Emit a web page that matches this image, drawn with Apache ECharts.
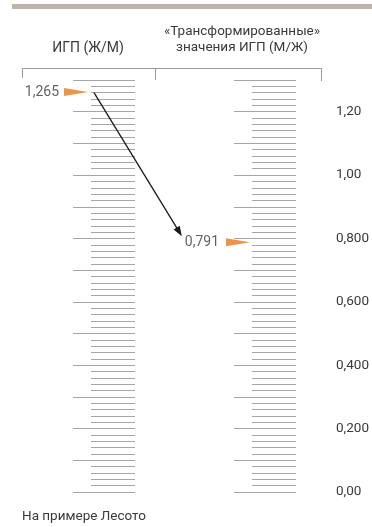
<!DOCTYPE html>
<html>
<head>
<meta charset="utf-8">
<script src="https://cdn.jsdelivr.net/npm/echarts@6/dist/echarts.min.js"></script>
<style>
html,body{margin:0;padding:0;background:#fff;}
#c{width:372px;height:527px;}
</style>
</head>
<body>
<div id="c"></div>
<script>
// ---- data ----
const scaleMin = 0;
const scaleMax = 1.3;
const majorStep = 0.1;
const scaleTitles = ['ИГП (Ж/М)', '«Трансформированные»\nзначения ИГП (М/Ж)'];
const markerValues = [1.265, 0.791];
const markerLabels = ['1,265', '0,791'];
const tickValues = [0, 0.2, 0.4, 0.6, 0.8, 1.0, 1.2];
const tickLabels = ['0,00', '0,200', '0,400', '0,600', '0,800', '1,00', '1,20'];
const footnote = 'На примере Лесото';

// ---- chart ----
const FONT = 'Roboto, "Noto Sans", sans-serif';
const TXT = '#3a3a3a';
const TICK = '#a6a6a6';
const ORANGE = '#e57a22';

const chart = echarts.init(document.getElementById('c'), null, {renderer: 'canvas'});

function labelFor(v) {
  for (let i = 0; i < tickValues.length; i++) {
    if (Math.abs(v - tickValues[i]) < 1e-6) return tickLabels[i];
  }
  return '';
}

const gridTop = 80, gridHeight = 412;

function tickAxis(gridIndex) {
  return {
    type: 'value', gridIndex: gridIndex, position: 'right',
    min: scaleMin, max: scaleMax, interval: majorStep,
    axisLine: {show: false, onZero: false},
    axisTick: {show: true, inside: true, length: 62, lineStyle: {color: TICK, width: 1}},
    minorTick: {show: true, splitNumber: 5, length: 44, lineStyle: {color: TICK, width: 1}},
    axisLabel: {show: false},
    splitLine: {show: false}
  };
}

const hiddenX = (gi) => ({type: 'value', gridIndex: gi, min: 0, max: 1, show: false});

const markerSymbol = 'path://M0,0 L24,4 L0,8 Z';

const option = {
  animation: false,
  backgroundColor: '#fff',
  grid: [
    {left: 73, top: gridTop, width: 62, height: gridHeight},
    {left: 235, top: gridTop, width: 62, height: gridHeight},
    {left: 94, top: gridTop, width: 91, height: gridHeight}
  ],
  xAxis: [hiddenX(0), hiddenX(1), hiddenX(2)],
  yAxis: [
    tickAxis(0),
    tickAxis(1),
    {
      type: 'value', gridIndex: 1, position: 'right',
      min: scaleMin, max: scaleMax, interval: 0.2,
      axisLine: {show: false, onZero: false}, axisTick: {show: false}, splitLine: {show: false},
      axisLabel: {
        show: true, margin: 40, showMaxLabel: false,
        color: TXT, fontFamily: FONT, fontSize: 13.5,
        formatter: labelFor
      }
    },
    {type: 'value', gridIndex: 2, min: scaleMin, max: scaleMax, show: false}
  ],
  series: [
    {
      type: 'scatter', xAxisIndex: 0, yAxisIndex: 0, z: 5,
      symbol: markerSymbol, symbolSize: [24, 8], symbolOffset: [3, 1],
      itemStyle: {color: ORANGE},
      data: [[0, markerValues[0]]],
      label: {show: true, position: 'left', distance: 5, formatter: () => markerLabels[0],
        color: TXT, fontFamily: FONT, fontSize: 14}
    },
    {
      type: 'scatter', xAxisIndex: 1, yAxisIndex: 1, z: 5,
      symbol: markerSymbol, symbolSize: [24, 8], symbolOffset: [3, 1],
      itemStyle: {color: ORANGE},
      data: [[0, markerValues[1]]],
      label: {show: true, position: 'left', distance: 7, formatter: () => markerLabels[1],
        color: TXT, fontFamily: FONT, fontSize: 14}
    },
    {
      type: 'custom', xAxisIndex: 2, yAxisIndex: 3, z: 6,
      data: [[0, markerValues[0], 1, markerValues[1]]],
      renderItem: function (params, api) {
        const p0 = api.coord([api.value(0), api.value(1)]);
        const p1 = api.coord([api.value(2), api.value(3)]);
        p0[1] += 1.5;
        const dx = p1[0] - p0[0], dy = p1[1] - p0[1];
        const L = Math.sqrt(dx * dx + dy * dy);
        const ux = dx / L, uy = dy / L;
        const tip = [p1[0] - ux * 6, p1[1] - uy * 6];
        const headLen = 10, headW = 3.6;
        const base = [tip[0] - ux * headLen, tip[1] - uy * headLen];
        const nx = -uy, ny = ux;
        return {
          type: 'group',
          children: [
            {type: 'line', shape: {x1: p0[0], y1: p0[1], x2: base[0] + ux * 2, y2: base[1] + uy * 2},
              style: {stroke: '#1a1a1a', lineWidth: 1.3}},
            {type: 'polygon', shape: {points: [tip,
              [base[0] + nx * headW, base[1] + ny * headW],
              [base[0] - nx * headW, base[1] - ny * headW]]},
              style: {fill: '#1a1a1a'}}
          ]
        };
      }
    }
  ],
  graphic: [
    {type: 'rect', shape: {x: 12, y: 4, width: 360, height: 5}, style: {fill: '#bbb4ac'}, silent: true},
    {type: 'text', x: 88, y: 48, style: {text: scaleTitles[0], font: '14px ' + FONT, fill: TXT,
      textAlign: 'center', textVerticalAlign: 'middle'}},
    {type: 'text', x: 242, y: 40, style: {text: scaleTitles[1], font: '13.5px ' + FONT, fill: TXT,
      textAlign: 'center', textVerticalAlign: 'middle', lineHeight: 16}},
    {type: 'polyline', shape: {points: [[22.5, 78], [22.5, 68.5], [321.5, 68.5], [321.5, 81]]},
      style: {stroke: '#999', lineWidth: 1, fill: null}},
    {type: 'line', shape: {x1: 155.5, y1: 68.5, x2: 155.5, y2: 80}, style: {stroke: '#999', lineWidth: 1}},
    {type: 'text', x: 22, y: 517, style: {text: footnote, font: '13.5px ' + FONT, fill: TXT,
      textAlign: 'left', textVerticalAlign: 'middle'}}
  ]
};

chart.setOption(option);
</script>
</body>
</html>
